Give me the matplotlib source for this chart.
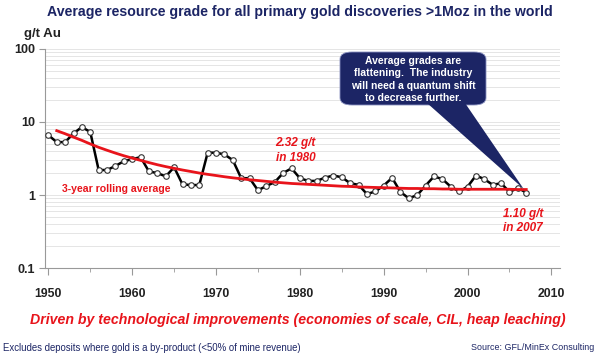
import matplotlib
matplotlib.use("Agg")
import matplotlib.pyplot as plt
from matplotlib.patches import FancyBboxPatch, Polygon
from matplotlib.ticker import LogLocator, NullFormatter, FixedLocator

plt.rcParams['font.family'] = ['Liberation Sans', 'DejaVu Sans']

# grade per year (g/t Au)
years = list(range(1950, 2008))
grade = [6.6, 5.3, 5.3, 7.0, 8.5, 7.3, 2.2, 2.2, 2.5, 2.9,
         3.1, 3.3, 2.1, 2.0, 1.8, 2.4, 1.4, 1.37, 1.37, 3.8,
         3.8, 3.6, 3.0, 1.7, 1.7, 1.16, 1.33, 1.5, 2.0, 2.32,
         1.7, 1.56, 1.56, 1.73, 1.85, 1.75, 1.45, 1.38, 1.03, 1.12,
         1.35, 1.72, 1.1, 0.9, 1.0, 1.35, 1.8, 1.65, 1.3, 1.12,
         1.3, 1.85, 1.65, 1.38, 1.45, 1.1, 1.25, 1.08]

# red trend line, 1951-2007
trend_years = list(range(1951, 2008))
trend = [7.6, 6.9, 6.2, 5.6, 5.0, 4.5, 4.1, 3.75, 3.45,
         3.2, 2.98, 2.78, 2.6, 2.45, 2.32, 2.2, 2.1, 2.0, 1.92,
         1.85, 1.78, 1.72, 1.67, 1.62, 1.58, 1.54, 1.5, 1.47, 1.44,
         1.42, 1.4, 1.38, 1.36, 1.34, 1.32, 1.31, 1.29, 1.28, 1.27,
         1.26, 1.25, 1.24, 1.23, 1.23, 1.22, 1.22, 1.21, 1.21, 1.2,
         1.2, 1.2, 1.2, 1.2, 1.2, 1.2, 1.19, 1.19]

x_ticks = [1950, 1960, 1970, 1980, 1990, 2000, 2010]
y_ticks = [0.1, 1, 10, 100]
y_labels = ['0.1', '1', '10', '100']

navy = '#1c2565'
red = '#e8141b'

fig = plt.figure(figsize=(6, 3.57), dpi=100)
ax = fig.add_axes([0.075, 0.249, 0.858, 0.614])

ax.set_yscale('log')
ax.set_ylim(0.1, 100)
ax.set_xlim(1949.6, 2011)

ax.yaxis.set_minor_locator(LogLocator(base=10, subs=range(2, 10)))
ax.yaxis.set_minor_formatter(NullFormatter())
ax.set_yticks(y_ticks)
ax.set_yticklabels(y_labels, fontweight='bold', fontsize=9, color='#222222')
ax.grid(True, which='both', axis='y', color='#e0e0e0', lw=0.6)
ax.set_axisbelow(True)

ax.set_xticks(x_ticks)
ax.set_xticklabels([str(t) for t in x_ticks], fontweight='bold', fontsize=8.8, color='#222222')
ax.xaxis.set_minor_locator(FixedLocator(range(1955, 2011, 10)))
ax.tick_params(axis='x', which='major', length=5, pad=9, color='#999999')
ax.tick_params(axis='x', which='minor', length=3, color='#999999')
ax.tick_params(axis='y', which='major', length=4, pad=3, color='#999999')
ax.tick_params(axis='y', which='minor', length=0)

for s in ['top', 'right']:
    ax.spines[s].set_visible(False)
for s in ['left', 'bottom']:
    ax.spines[s].set_color('#999999')

ax.plot(years, grade, color='black', lw=1.8, marker='o', markersize=4,
        markerfacecolor='white', markeredgecolor='#333333', markeredgewidth=0.8, zorder=3)
ax.plot(trend_years, trend, color=red, lw=2, zorder=4)

# labels
ax.text(1951.6, 1.02, '3-year rolling average', color=red, fontsize=7.6,
        fontweight='bold', va='bottom')
ax.text(1979.5, 4.1, '2.32 g/t\nin 1980', color=red, fontsize=8.5,
        fontweight='bold', style='italic', ha='center', va='center', linespacing=1.3)
ax.text(2006.6, 0.44, '1.10 g/t\nin 2007', color=red, fontsize=8.5,
        fontweight='bold', style='italic', ha='center', va='center', linespacing=1.3)

fig.text(0.5, 0.966, 'Average resource grade for all primary gold discoveries >1Moz in the world',
         ha='center', va='center', color=navy, fontsize=10.2, fontweight='bold')
fig.text(0.04, 0.905, 'g/t Au', ha='left', va='center', color='#222222',
         fontsize=9.5, fontweight='bold')
fig.text(0.497, 0.104, 'Driven by technological improvements (economies of scale, CIL, heap leaching)',
         ha='center', va='center', color=red, fontsize=10.2, fontweight='bold', style='italic')
fig.text(0.005, 0.025, 'Excludes deposits where gold is a by-product (<50% of mine revenue)',
         ha='left', va='center', color=navy, fontsize=6.9)
fig.text(0.99, 0.027, 'Source: GFL/MinEx Consulting',
         ha='right', va='center', color=navy, fontsize=6.4)

# callout box
W, H = 600.0, 357.0
box = FancyBboxPatch((340 / W, 1 - 105 / H), 146 / W, 53 / H,
                     boxstyle='round,pad=0,rounding_size=0.02', transform=fig.transFigure,
                     facecolor=navy, edgecolor='#8890c0', lw=0.6, zorder=5)
fig.patches.append(box)
tip = fig.transFigure.inverted().transform(ax.transData.transform((years[-1] - 0.3, grade[-1] * 1.12)))
tri = Polygon([(427 / W, 1 - 103 / H), (465 / W, 1 - 103 / H), tuple(tip)],
              closed=True, transform=fig.transFigure, facecolor=navy, edgecolor='none', zorder=5)
fig.patches.append(tri)
fig.text(413 / W, 1 - 79.5 / H,
         'Average grades are\nflattening.  The industry\nwill need a quantum shift\nto decrease further.',
         ha='center', va='center', color='white', fontsize=7.5, fontweight='bold',
         linespacing=1.3, zorder=6)

fig.savefig('out.png', dpi=100, facecolor='white')
